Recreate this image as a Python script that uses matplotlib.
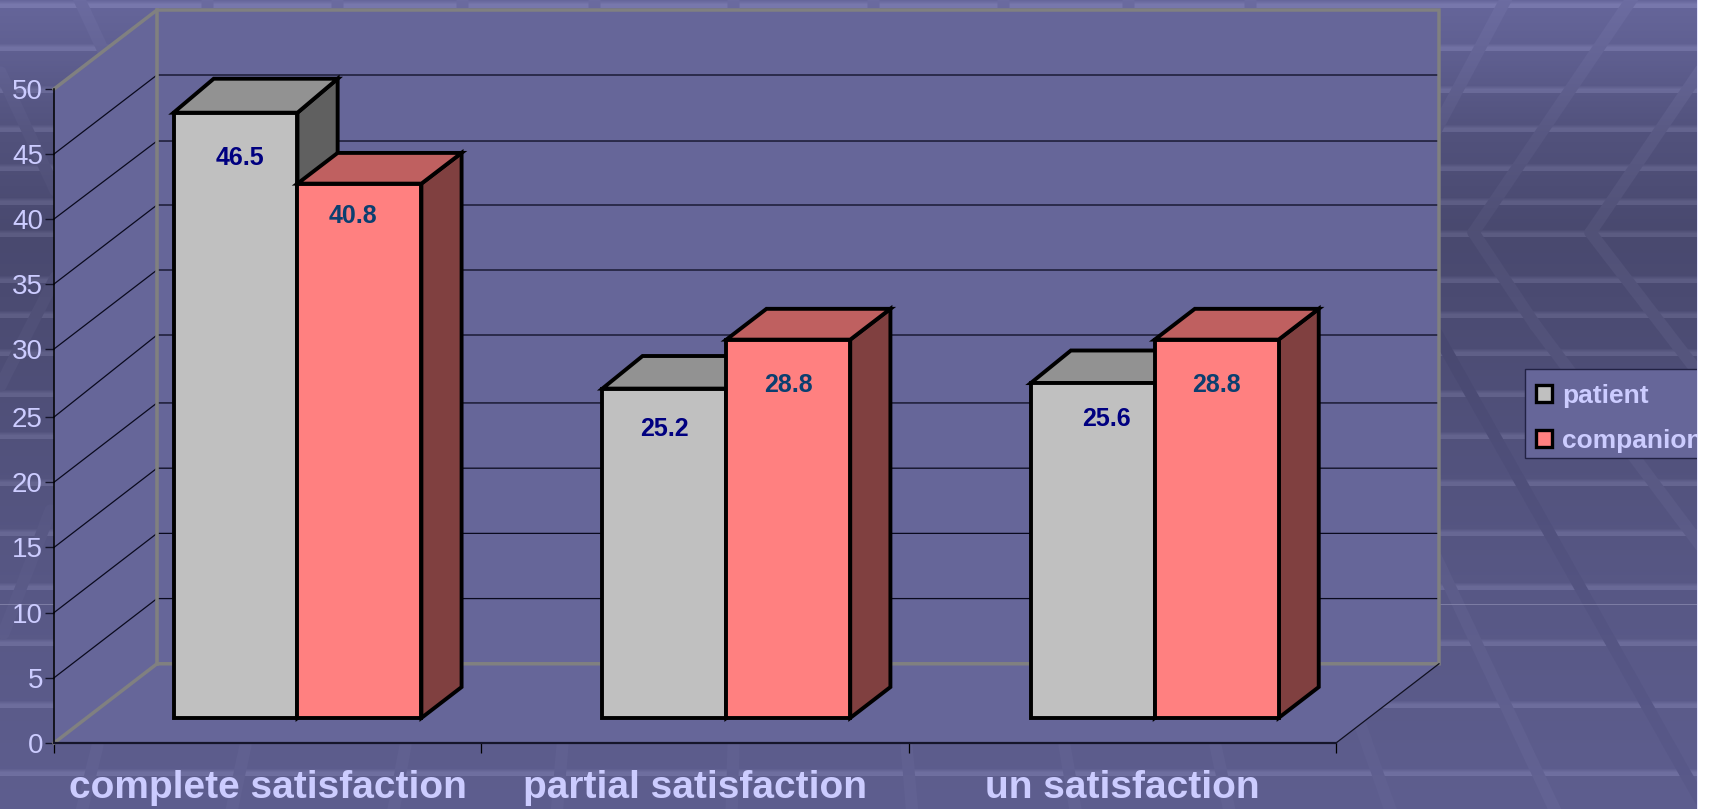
import numpy as np
import matplotlib
matplotlib.use("Agg")
import matplotlib.pyplot as plt
from matplotlib.patches import Polygon, Patch, Rectangle

#---------------------------
# DATA
#---------------------------
CATEGORIES = ["complete satisfaction", "partial satisfaction", "un satisfaction"]
SERIES = ["patient", "companion"]
PATIENT = [46.5, 25.2, 25.6]
COMPANION = [40.8, 28.8, 28.8]
Y_TICKS = [0, 5, 10, 15, 20, 25, 30, 35, 40, 45, 50]

#---------------------------
# LAYOUT, all in reference pixels
#---------------------------
W, H = 1718, 809
PAGE_W = 1697
AX_L, AX_R, AX_T, AX_B = 54, 1336, 89, 743
DEPTH_X = 103  # how far the back wall sits from the front of the floor
DEPTH_Y = 79
PX_PER_UNIT = 13.0

# the source image is not quite even vertically, so the value axis has a few stops
SCALE_U = [-10, 0, 26, 30, 45, 48.4, 50, 60]
SCALE_PX = [-130, 0, 339, 394, 589, 630, 654, 784]

BAR_START = 0.2036  # in category units
BAR_W = 0.29
BAR_D0, BAR_D1 = 0.316, 0.706
GROUP_SHIFT = [0, 1.5, 2.5]  # px

# label placement inside the front faces (dx, drop below the top edge)
LABEL_OFF = {"patient": [(4, 45), (0, 40), (14, 36)], "companion": [(-7, 32), (0, 45), (0, 45)]}

WALL = "#666699"
FRAME = "#808080"
TEXT = "#CCCCFF"
GRID = "#0a0a1e"
COLORS = {"patient": ("#C0C0C0", "#929292", "#606060"), "companion": ("#FF8080", "#BF6060", "#804040")}
LABEL_COLORS = {"patient": "#000080", "companion": "#0B3F70"}

# background
GRAD_Y = [0, 60, 130, 230, 330, 450, 600, 809]
GRAD_R = [0x66, 0x5E, 0x52, 0x49, 0x4C, 0x52, 0x58, 0x5E]
STRIPES = [5, 48, 90, 129, 168, 202, 234, 280, 315, 353, 394, 436, 483, 533, 587, 643, 705, 773]
# (x0, y0, x1, y1, brightness)
BANDS = [
    (1637, -10, 1473, 232, 6), (1473, 232, 1535, 325, 6), (1535, 325, 1700, 545, 6),
    (1700, 70, 1590, 232, 8), (1590, 232, 1700, 375, 8),
    (1510, -10, 1430, 140, 6),
    (1430, 322, 1700, 800, -4), (1430, 545, 1557, 815, 5), (1360, 725, 1392, 815, 3),
    (77, -5, 105, 55, 5), (0, 72, 55, 190, 4), (55, 277, 0, 385, 5), (50, 510, 3, 633, 3),
    (97, 745, 80, 815, 4), (245, 745, 230, 815, 4), (405, 745, 392, 815, 4),
    (562, 745, 556, 815, 4), (733, 745, 731, 815, 4), (906, 745, 912, 815, 4),
    (1064, 745, 1076, 815, 4), (1215, 745, 1230, 815, 4),
    (207, -2, 207, 9, 5), (337, -2, 337, 9, 5), (462, -2, 462, 9, 5), (594, -2, 594, 9, 5),
    (733, -2, 733, 9, 5), (873, -2, 873, 9, 5), (1003, -2, 1003, 9, 5), (1128, -2, 1128, 9, 5),
    (1250, -2, 1250, 9, 5),
]


def make_background():
    yy, xx = np.mgrid[0:H, 0:PAGE_W]
    r = np.interp(yy[:, 0], GRAD_Y, GRAD_R)
    base = np.stack([r, r, r * 1.52], axis=1)[:, None, :]
    img = np.repeat(base, PAGE_W, axis=1)
    # light stripes fade in from above
    for s in STRIPES:
        for k in range(7):
            y = s + 2 - k
            if 0 <= y < H:
                img[y] += 18 * max(0.0, 1 - max(k - 3, 0) / 4)
    for x0, y0, x1, y1, delta in BANDS:
        vx, vy = x1 - x0, y1 - y0
        t = np.clip(((xx - x0) * vx + (yy - y0) * vy) / (vx * vx + vy * vy), 0, 1)
        d = np.hypot(xx - x0 - t * vx, yy - y0 - t * vy)
        a = np.clip(6 - d + 0.5, 0, 1)[:, :, None]
        img = img * (1 - a) + (base + delta) * a
    # thin white hairline near the bottom
    img[604] = img[604] * 0.5 + 0.5 * np.array([0xA0, 0xA0, 0xC4])
    return np.clip(img, 0, 255).astype(np.uint8)


fig = plt.figure(figsize=(W / 100, H / 100), dpi=100, facecolor="white")
plt.rcParams["font.family"] = ["Liberation Sans", "DejaVu Sans"]

bg = fig.add_axes([0, 0, 1, 1])
bg.imshow(make_background(), extent=(0, PAGE_W, H, 0), aspect="auto", interpolation="nearest")
bg.set_xlim(0, W)
bg.set_ylim(H, 0)
bg.axis("off")
# legend box, it runs off the page on the right as in the original
bg.add_patch(Rectangle((1525, 369), 180, 89, fc=WALL, ec="#222244", lw=1.0))

ax = fig.add_axes([AX_L / W, (H - AX_B) / H, (AX_R - AX_L) / W, (AX_B - AX_T) / H])
ax.patch.set_alpha(0)
ax.set_xlim(0, len(CATEGORIES))
ax.set_yscale("function", functions=(lambda u: np.interp(u, SCALE_U, SCALE_PX),
                                     lambda p: np.interp(p, SCALE_PX, SCALE_U)))
ax.set_ylim(0, Y_TICKS[-1])

# depth expressed in data units
PX_PER_CAT = (AX_R - AX_L) / len(CATEGORIES)
DX = DEPTH_X / PX_PER_CAT
DY = DEPTH_Y / PX_PER_UNIT


def proj(x, v, d=0.0):
    return (x + d * DX, v + d * DY)


def face(points, **kw):
    ax.add_patch(Polygon(points, closed=True, clip_on=False, **kw))


n_cat = len(CATEGORIES)
top = Y_TICKS[-1]

# walls and floor
wall_kw = dict(fc=WALL, ec="none", zorder=1)
face([proj(0, 0, 1), proj(n_cat, 0, 1), proj(n_cat, top, 1), proj(0, top, 1)], **wall_kw)
face([proj(0, 0, 0), proj(0, 0, 1), proj(0, top, 1), proj(0, top, 0)], **wall_kw)
face([proj(0, 0, 0), proj(n_cat, 0, 0), proj(n_cat, 0, 1), proj(0, 0, 1)], **wall_kw)

# grid on both walls
for v in Y_TICKS[1:-1]:
    pts = [proj(0, v, 0), proj(0, v, 1), proj(n_cat, v, 1)]
    ax.plot(*zip(*pts), color=GRID, lw=0.9, zorder=2, clip_on=False)

# grey frame of the walls
ax.plot(*zip(proj(0, 0, 0), proj(0, 0, 1), proj(n_cat, 0, 1), proj(n_cat, top, 1),
             proj(0, top, 1), proj(0, top, 0)),
        color=FRAME, lw=2.5, zorder=3, clip_on=False, solid_joinstyle="miter")
ax.plot(*zip(proj(0, 0, 1), proj(0, top, 1)), color=FRAME, lw=2.6, zorder=3, clip_on=False)
ax.plot(*zip(proj(n_cat, 0, 0), proj(n_cat, 0, 1)), color="#101020", lw=0.9, zorder=3, clip_on=False)


def draw_bar(x0, x1, v, colors, z):
    front, upper, side = colors
    d0, d1 = BAR_D0, BAR_D1
    kw = dict(ec="black", lw=2.8, joinstyle="miter", zorder=z)
    face([proj(x1, 0, d0), proj(x1, 0, d1), proj(x1, v, d1), proj(x1, v, d0)], fc=side, **kw)
    face([proj(x0, v, d0), proj(x1, v, d0), proj(x1, v, d1), proj(x0, v, d1)], fc=upper, **kw)
    face([proj(x0, 0, d0), proj(x1, 0, d0), proj(x1, v, d0), proj(x0, v, d0)], fc=front, **kw)


for i in range(n_cat):
    for j, (name, vals) in enumerate(zip(SERIES, [PATIENT, COMPANION])):
        x0 = i + BAR_START + GROUP_SHIFT[i] / PX_PER_CAT + j * BAR_W
        x1 = x0 + BAR_W
        draw_bar(x0, x1, vals[i], COLORS[name], 5 + i + j * 0.1)
        dx, drop = LABEL_OFF[name][i]
        ax.annotate(f"{vals[i]:.1f}", xy=proj((x0 + x1) / 2, vals[i], BAR_D0),
                    xytext=(dx * 0.72, -drop * 0.72), textcoords="offset points",
                    ha="center", va="center", fontsize=18, fontweight="bold",
                    color=LABEL_COLORS[name], zorder=20, annotation_clip=False)

# axes
for s in ["top", "right"]:
    ax.spines[s].set_visible(False)
ax.spines["left"].set_color("black")
ax.spines["left"].set_linewidth(1.1)
ax.spines["left"].set_zorder(4)
ax.spines["bottom"].set_color("#15152a")
ax.spines["bottom"].set_linewidth(1.6)
ax.spines["bottom"].set_zorder(4)
ax.set_yticks(Y_TICKS)
ax.set_yticklabels([str(v) for v in Y_TICKS])
ax.minorticks_off()
ax.tick_params(axis="y", length=6.5, width=1, color="#15152a", labelcolor=TEXT, labelsize=20, pad=1.5)
ax.set_xticks(range(n_cat + 1))
ax.set_xticklabels([])
ax.tick_params(axis="x", which="major", length=7.2, width=0.9, color="black")
ax.set_xticks([i + 0.5 for i in range(n_cat)], minor=True)
ax.set_xticklabels(CATEGORIES, minor=True, fontsize=28, fontweight="bold", color=TEXT)
ax.tick_params(axis="x", which="minor", length=0, pad=19.2)

handles = [Patch(fc=COLORS[s][0], ec="black", lw=2.4, label=s) for s in SERIES]
leg = ax.legend(handles=handles, loc="upper left",
                bbox_to_anchor=(1525 / W, (H - 372.5) / H), bbox_transform=fig.transFigure,
                fontsize=19, frameon=False, borderaxespad=0, borderpad=0.42,
                handlelength=0.62, handleheight=0.62, handletextpad=0.36, labelspacing=0.8)
leg.set_zorder(30)
for t in leg.get_texts():
    t.set_color(TEXT)
    t.set_fontweight("bold")

# the slide stops short of the right edge of the image
fig.add_artist(Rectangle((PAGE_W / W, 0), (W - PAGE_W) / W, 1, transform=fig.transFigure,
                         fc="white", ec="none", zorder=50))
fig.add_artist(Rectangle((PAGE_W / W, 0), 1 / W, 1, transform=fig.transFigure,
                         fc="#E4E4FF", ec="none", zorder=51))

fig.savefig("out.png", dpi=100, facecolor="white")
